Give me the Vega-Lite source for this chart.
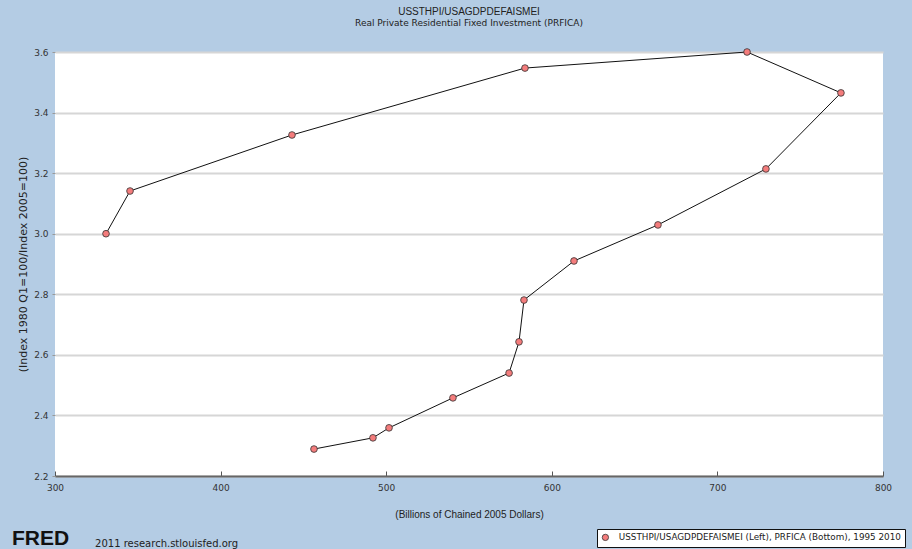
{
  "$schema": "https://vega.github.io/schema/vega-lite/v6.json",
  "width": 828,
  "height": 424,
  "autosize": "none",
  "padding": {"left": 55, "top": 52, "right": 29, "bottom": 73},
  "background": "#b4cce4",
  "config": {
    "view": {"fill": "white", "stroke": null},
    "font": "DejaVu Sans",
    "legend": {
      "orient": "none",
      "legendX": 542,
      "legendY": 477,
      "fillColor": "white",
      "strokeColor": "#111",
      "padding": 4,
      "labelFont": "DejaVu Sans",
      "labelFontSize": 8.8,
      "labelColor": "#222",
      "labelOffset": 9,
      "labelLimit": 0,
      "symbolSize": 40,
      "symbolStrokeColor": "#333",
      "symbolStrokeWidth": 0.8
    }
  },
  "title": {
    "text": "USSTHPI/USAGDPDEFAISMEI",
    "subtitle": "Real Private Residential Fixed Investment (PRFICA)",
    "anchor": "middle",
    "frame": "group",
    "font": "Liberation Sans",
    "fontSize": 10,
    "fontWeight": "normal",
    "color": "#222",
    "subtitleFont": "DejaVu Sans",
    "subtitleFontSize": 9,
    "subtitleColor": "#222",
    "subtitlePadding": 2,
    "offset": 19
  },
  "data": {
    "values": [
      {"year": 1995, "prfica": 456.4, "ratio": 2.289},
      {"year": 1996, "prfica": 492.0, "ratio": 2.326},
      {"year": 1997, "prfica": 501.7, "ratio": 2.359},
      {"year": 1998, "prfica": 540.3, "ratio": 2.458},
      {"year": 1999, "prfica": 574.2, "ratio": 2.540},
      {"year": 2000, "prfica": 580.2, "ratio": 2.643},
      {"year": 2001, "prfica": 583.2, "ratio": 2.781},
      {"year": 2002, "prfica": 613.4, "ratio": 2.910},
      {"year": 2003, "prfica": 664.1, "ratio": 3.029},
      {"year": 2004, "prfica": 729.3, "ratio": 3.214},
      {"year": 2005, "prfica": 774.6, "ratio": 3.465},
      {"year": 2006, "prfica": 717.9, "ratio": 3.600},
      {"year": 2007, "prfica": 583.8, "ratio": 3.547},
      {"year": 2008, "prfica": 443.1, "ratio": 3.326},
      {"year": 2009, "prfica": 345.3, "ratio": 3.141},
      {"year": 2010, "prfica": 330.8, "ratio": 3.000}
    ]
  },
  "encoding": {
    "x": {
      "field": "prfica",
      "type": "quantitative",
      "scale": {"domain": [300, 800], "nice": false, "zero": false},
      "axis": {
        "title": "(Billions of Chained 2005 Dollars)",
        "values": [300, 400, 500, 600, 700, 800],
        "grid": false,
        "labelFlush": false,
        "domainColor": "#666",
        "domainWidth": 2,
        "tickColor": "#555",
        "tickSize": -5,
        "labelPadding": 12,
        "labelFont": "DejaVu Sans",
        "labelFontSize": 9,
        "labelColor": "#333",
        "titleFont": "Liberation Sans",
        "titleFontSize": 10,
        "titleFontWeight": "normal",
        "titleColor": "#222",
        "titlePadding": 17
      }
    },
    "y": {
      "field": "ratio",
      "type": "quantitative",
      "scale": {"domain": [2.2, 3.6], "nice": false, "zero": false},
      "axis": {
        "title": "(Index 1980 Q1=100/Index 2005=100)",
        "values": [2.2, 2.4, 2.6, 2.8, 3.0, 3.2, 3.4, 3.6],
        "format": ".1f",
        "grid": true,
        "labelFlush": false,
        "gridColor": "#d6d6d6",
        "gridWidth": 2,
        "domain": false,
        "tickSize": 3,
        "tickColor": "#999",
        "labelPadding": 4,
        "labelFont": "DejaVu Sans",
        "labelFontSize": 9,
        "labelColor": "#333",
        "titleFont": "DejaVu Sans",
        "titleFontSize": 11,
        "titleFontWeight": "normal",
        "titleColor": "#222",
        "titlePadding": 5
      }
    }
  },
  "layer": [
    {
      "mark": {"type": "line", "color": "#111", "strokeWidth": 1},
      "encoding": {"order": {"field": "year", "type": "quantitative"}}
    },
    {
      "mark": {"type": "point", "shape": "circle", "filled": true, "size": 45, "stroke": "#333", "strokeWidth": 0.8, "opacity": 1},
      "encoding": {
        "color": {
          "datum": "USSTHPI/USAGDPDEFAISMEI (Left), PRFICA (Bottom), 1995 2010",
          "scale": {"range": ["#f47c7c"]},
          "legend": {"title": null}
        }
      }
    },
    {
      "transform": [{"filter": "datum.year == 1995"}],
      "mark": {"type": "text", "text": "FRED", "font": "Liberation Sans", "fontWeight": "bold", "fontSize": 21, "align": "left", "baseline": "alphabetic", "color": "#111"},
      "encoding": {"x": {"datum": 274.0}, "y": {"datum": 1.971}}
    },
    {
      "transform": [{"filter": "datum.year == 1995"}],
      "mark": {"type": "text", "text": "2011 research.stlouisfed.org", "font": "DejaVu Sans", "fontSize": 10, "fontWeight": "normal", "align": "left", "baseline": "alphabetic", "color": "#222"},
      "encoding": {"x": {"datum": 324.2}, "y": {"datum": 1.966}}
    }
  ]
}
